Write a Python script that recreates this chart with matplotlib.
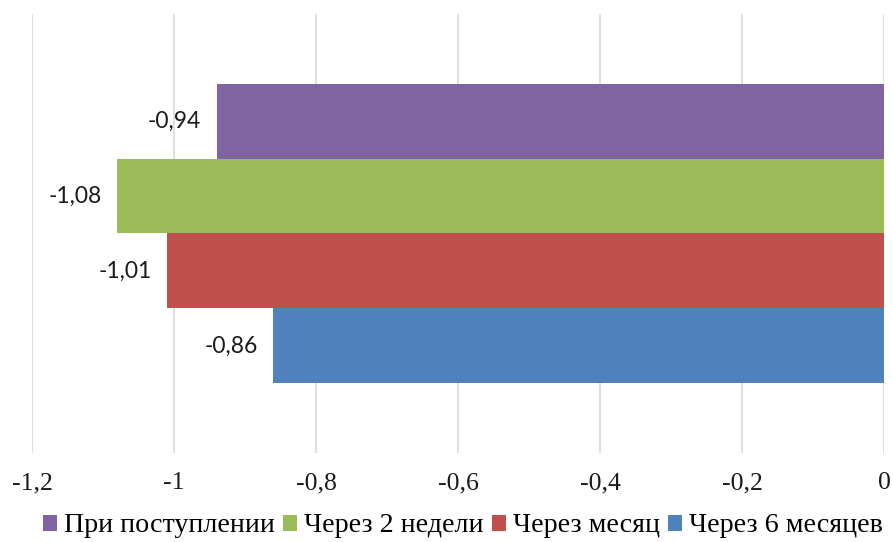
import matplotlib
matplotlib.use("Agg")
import matplotlib.pyplot as plt
from matplotlib.patches import Patch

series = ["При поступлении", "Через 2 недели", "Через месяц", "Через 6 месяцев"]
values = [-0.94, -1.08, -1.01, -0.86]
colors = ["#8064A2", "#9BBB59", "#C0504D", "#4F81BD"]
xticks = [-1.2, -1.0, -0.8, -0.6, -0.4, -0.2, 0.0]

W, H = 893, 542
fig = plt.figure(figsize=(W / 100, H / 100), dpi=100)
ax = fig.add_axes([32 / W, (H - 453) / H, (884 - 32) / W, (453 - 14) / H])

positions = [3, 2, 1, 0]
for pos, v, c, s in zip(positions, values, colors, series):
    b = ax.barh(pos, v, height=1.0, color=c, label=s, zorder=3)
    ax.bar_label(b, labels=[f"{v:.2f}".replace(".", ",")], padding=11,
                 fontsize=16.5, family="Lato", color="#1a1a1a")

ax.set_xlim(-1.2, 0)
ax.set_ylim(1.5 - 2.927, 1.5 + 2.927)
ax.set_xticks(xticks)
ax.set_xticklabels([("%g" % t).replace(".", ",") if t != 0 else "0" for t in xticks],
                   family="Liberation Serif", fontsize=18.5, color="#1a1a1a")
ax.set_yticks([])
ax.tick_params(axis="x", length=0, pad=14)
ax.grid(axis="x", color="#D9D9D9", linewidth=1.2, zorder=0)
for sp in ax.spines.values():
    sp.set_visible(False)

handles = [Patch(facecolor=c, label=s) for c, s in zip(colors, series)]
fig.legend(handles=handles, loc="center", bbox_to_anchor=(463 / W, 1 - 526 / H), ncol=4,
           frameon=False, prop={"family": "Liberation Serif", "size": 20.2},
           handlelength=0.5, handleheight=0.5, handletextpad=0.25, columnspacing=0.3,
           borderaxespad=0)

fig.savefig("out.png", dpi=100)
